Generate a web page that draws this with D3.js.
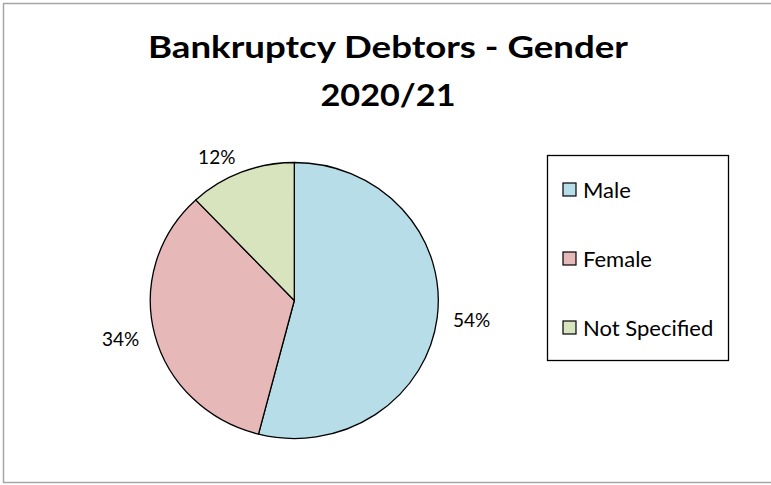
<!DOCTYPE html>
<html>
<head>
<meta charset="utf-8">
<script src="https://cdn.jsdelivr.net/npm/d3@7"></script>
<style>
  body { margin: 0; background: #fff; overflow: hidden; }
  text { font-family: Lato, "Open Sans", sans-serif; fill: #000; }
</style>
</head>
<body>
<script>
var categories = ["Male", "Female", "Not Specified"],
    values = [54, 34, 12],
    colors = ["#B7DEE8", "#E6B9B8", "#D7E4BD"],
    titleLines = ["Bankruptcy Debtors - Gender", "2020/21"],
    titleWidths = [480, 135]; // the title in the original is drawn a bit wide

var width = 771, height = 485,
    cx = 294.3, cy = 300.5,
    rx = 144, ry = 138; // pie is a little wider than tall

var svg = d3.select("body")
    .append("svg")
    .attr("width", width)
    .attr("height", height);

// chart area border (right edge runs off the picture)
svg.append("rect")
    .attr("x", 3.5)
    .attr("y", 3.5)
    .attr("width", width + 10)
    .attr("height", 479)
    .attr("fill", "none")
    .attr("stroke", "#a6a6a6")
    .attr("stroke-width", 1.5);

// title
svg.selectAll(".title")
    .data(titleLines)
    .enter()
    .append("text")
    .attr("class", "title")
    .attr("x", 388)
    .attr("y", function(d, i){ return 58 + i * 48; })
    .attr("text-anchor", "middle")
    .attr("textLength", function(d, i){ return titleWidths[i]; })
    .attr("lengthAdjust", "spacingAndGlyphs")
    .style("font-size", "30px")
    .style("font-weight", "bold")
    .text(function(d){ return d; });

var pie = d3.pie().sort(null).value(function(d){ return d; });
var arcs = pie(values);

var arc = d3.arc().innerRadius(0).outerRadius(rx);

var g = svg.append("g")
    .attr("transform", "translate(" + cx + "," + cy + ") scale(1," + (ry / rx) + ")");

g.selectAll(".slice")
    .data(arcs)
    .enter()
    .append("path")
    .attr("class", "slice")
    .attr("d", arc)
    .attr("fill", function(d, i){ return colors[i]; })
    .attr("stroke", "#000")
    .attr("stroke-width", 1.3)
    .attr("vector-effect", "non-scaling-stroke")
    .attr("stroke-linejoin", "round");

// percentage labels outside the pie
var labelGap = 16;
svg.selectAll(".label")
    .data(arcs)
    .enter()
    .append("text")
    .attr("class", "label")
    .attr("x", function(d){
        var a = (d.startAngle + d.endAngle) / 2;
        return cx + Math.sin(a) * (rx + labelGap);
    })
    .attr("y", function(d){
        var a = (d.startAngle + d.endAngle) / 2;
        return cy - Math.cos(a) * (ry + labelGap) + 2;
    })
    .attr("text-anchor", function(d){
        var a = (d.startAngle + d.endAngle) / 2;
        return Math.sin(a) >= 0 ? "start" : "end";
    })
    .attr("dominant-baseline", "middle")
    .style("font-size", "19px")
    .text(function(d){ return d.value + "%"; });

// legend
var legendX = 547.5, legendY = 155.5, legendW = 181, legendH = 205, rowGap = 69;

svg.append("rect")
    .attr("x", legendX)
    .attr("y", legendY)
    .attr("width", legendW)
    .attr("height", legendH)
    .attr("fill", "#fff")
    .attr("stroke", "#000")
    .attr("stroke-width", 1.3);

var legend = svg.selectAll(".legend")
    .data(categories)
    .enter()
    .append("g")
    .attr("class", "legend")
    .attr("transform", function(d, i){
        return "translate(" + (legendX + 15.5) + "," + (legendY + 34 + i * rowGap) + ")";
    });

legend.append("rect")
    .attr("x", 0)
    .attr("y", -6.5)
    .attr("width", 13)
    .attr("height", 13)
    .attr("fill", function(d, i){ return colors[i]; })
    .attr("stroke", "#000")
    .attr("stroke-width", 1.2);

legend.append("text")
    .attr("x", 20)
    .attr("y", 0)
    .attr("dominant-baseline", "central")
    .style("font-size", "22px")
    .text(function(d){ return d; });
</script>
</body>
</html>
